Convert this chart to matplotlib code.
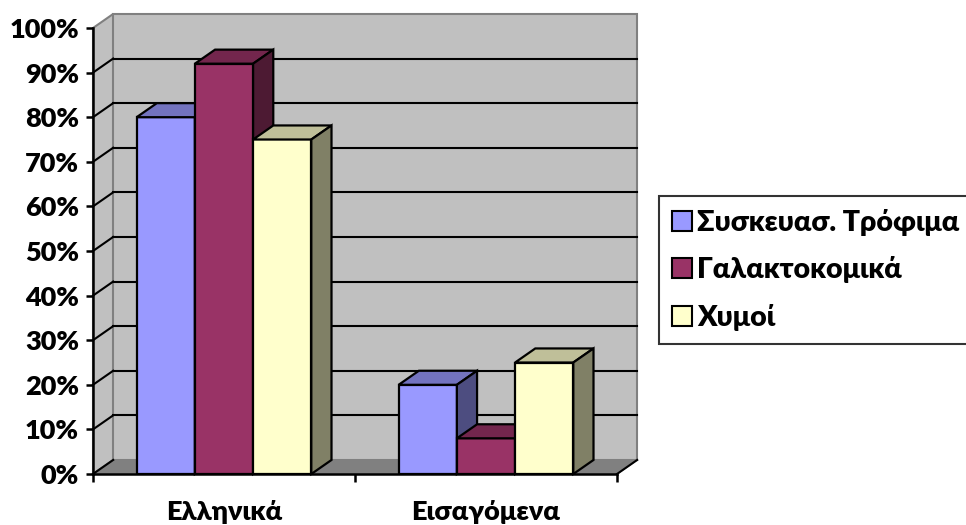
import matplotlib
matplotlib.use("Agg")
import matplotlib.pyplot as plt
from matplotlib.patches import Polygon, Patch
import matplotlib.colors as mcolors

categories = ["Ελληνικά", "Εισαγόμενα"]
series_names = ["Συσκευασ. Τρόφιμα", "Γαλακτοκομικά", "Χυμοί"]
packaged = [80, 20]
dairy = [92, 8]
juices = [75, 25]
series_values = [packaged, dairy, juices]
y_ticks = [0, 10, 20, 30, 40, 50, 60, 70, 80, 90, 100]
y_tick_labels = [f"{v}%" for v in y_ticks]

front_colors = ["#9999FF", "#993366", "#FFFFCC"]

FONT = ["Lato", "Open Sans", "DejaVu Sans"]
WEIGHT = "heavy"
plt.rcParams["font.family"] = FONT
plt.rcParams["font.weight"] = WEIGHT

W, H = 966, 525
fig = plt.figure(figsize=(W / 100, H / 100), dpi=100)
ax = fig.add_axes([93 / W, 51 / H, 524 / W, 446 / H])
ax.set_xlim(0, 2)
ax.set_ylim(0, 100)

DX = 0.077   # depth in category units
DY = 3.15    # depth in percent units
bar_w = 1 / 4.5
ncat = len(categories)


def shade(c, f):
    r, g, b = mcolors.to_rgb(c)
    return (r * f, g * f, b * f)


def poly(pts, fc, ec, lw, z):
    p = Polygon(pts, closed=True, facecolor=fc, edgecolor=ec, linewidth=lw,
                zorder=z, clip_on=False, joinstyle="miter")
    ax.add_patch(p)


# walls and floor
wall = "#C0C0C0"
poly([(0, 0), (0, 100), (DX, 100 + DY), (DX, DY)], wall, "#808080", 1.5, 0)
poly([(DX, DY), (DX, 100 + DY), (ncat + DX, 100 + DY), (ncat + DX, DY)], wall, "#808080", 1.5, 0)
poly([(0, 0), (ncat, 0), (ncat + DX, DY), (DX, DY)], "#808080", "#808080", 1.0, 0.5)

# gridlines on back wall and side wall
for v in y_ticks[:-1]:
    if v > 0:
        ax.plot([DX, ncat + DX], [v + DY, v + DY], color="black", lw=1.5, zorder=1, clip_on=False)
    ax.plot([0, DX], [v, v + DY], color="black", lw=1.5, zorder=1, clip_on=False)
# right floor edge
ax.plot([ncat, ncat + DX], [0, DY], color="black", lw=1.5, zorder=1, clip_on=False)

# bars
z = 2
for ci in range(ncat):
    center = ci + 0.5
    for si, vals in enumerate(series_values):
        v = vals[ci]
        x0 = center - 1.5 * bar_w + si * bar_w
        x1 = x0 + bar_w
        fc = front_colors[si]
        ax.bar(x0, v, width=bar_w, align="edge", color=fc, edgecolor="black",
               linewidth=1.6, zorder=z)
        poly([(x0, v), (x1, v), (x1 + DX, v + DY), (x0 + DX, v + DY)],
             shade(fc, 0.75), "black", 1.6, z + 0.1)
        poly([(x1, 0), (x1, v), (x1 + DX, v + DY), (x1 + DX, DY)],
             shade(fc, 0.5), "black", 1.6, z + 0.2)
        z += 1

# axes styling
for s in ["top", "right"]:
    ax.spines[s].set_visible(False)
for s in ["left", "bottom"]:
    ax.spines[s].set_linewidth(1.8)
    ax.spines[s].set_color("black")
    ax.spines[s].set_zorder(50)
ax.patch.set_visible(False)

ax.set_yticks(y_ticks)
ax.set_yticklabels(y_tick_labels)
ax.tick_params(axis="y", direction="out", length=5, width=1.8, pad=5,
               labelsize=19.5)
ax.set_xticks([0, 1, 2])
ax.set_xticklabels([])
ax.tick_params(axis="x", which="major", direction="out", length=6, width=1.8)
ax.set_xticks([0.5, 1.5], minor=True)
ax.set_xticklabels(categories, minor=True)
ax.tick_params(axis="x", which="minor", length=0, pad=19, labelsize=19.5)
for lab in ax.get_yticklabels() + ax.get_xticklabels(minor=True):
    lab.set_fontweight(WEIGHT)

handles = [Patch(facecolor=c, edgecolor="black", linewidth=1.5) for c in front_colors]
leg = fig.legend(handles, series_names, loc="upper left",
                 bbox_to_anchor=(659 / W, 1 - 196 / H),
                 prop={"family": FONT, "weight": WEIGHT, "size": 20.5},
                 frameon=True, fancybox=False, handlelength=0.7, handleheight=0.7,
                 handletextpad=0.2, labelspacing=0.72, borderpad=0.45, borderaxespad=0)
leg.get_frame().set_edgecolor("black")
leg.get_frame().set_linewidth(1.5)

fig.savefig("out.png", dpi=100)
